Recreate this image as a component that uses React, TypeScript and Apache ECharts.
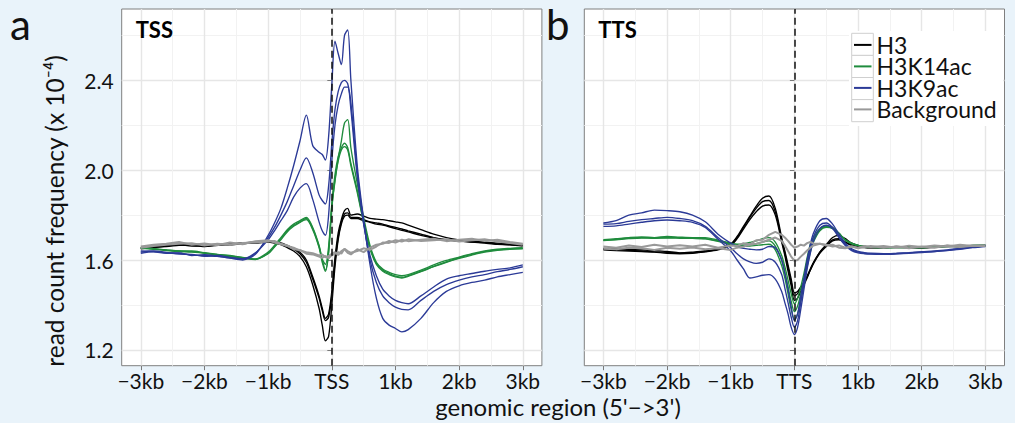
import React, { useEffect, useRef } from "react";
import * as echarts from "echarts";

// genomic position (kb) relative to TSS / TTS
const X = [
  -3.0, -2.8, -2.6, -2.4, -2.2, -2.0, -1.8, -1.6, -1.4, -1.2, -1.0,
  -0.9, -0.8, -0.7, -0.6, -0.5, -0.4, -0.3, -0.2,
  -0.15, -0.1, -0.05, 0, 0.05, 0.1, 0.15, 0.2, 0.25, 0.3,
  0.4, 0.5, 0.6, 0.7, 0.8, 0.9, 1.0, 1.1, 1.2,
  1.4, 1.6, 1.8, 2.0, 2.2, 2.4, 2.6, 2.8, 3.0,
];

// ---- panel a : TSS ----
const TSS_H3_1 = [
  1.655, 1.66, 1.665, 1.67, 1.665, 1.66, 1.668, 1.672, 1.676, 1.68, 1.685,
  1.682, 1.676, 1.665, 1.652, 1.635, 1.6, 1.525, 1.44,
  1.385, 1.34, 1.36, 1.46, 1.61, 1.72, 1.78, 1.82, 1.83, 1.8,
  1.805, 1.795, 1.785, 1.782, 1.78, 1.775, 1.77, 1.765, 1.755,
  1.735, 1.715, 1.7, 1.69, 1.685, 1.68, 1.675, 1.67, 1.665,
];
const TSS_H3_2 = [
  1.65, 1.655, 1.662, 1.668, 1.662, 1.665, 1.67, 1.668, 1.672, 1.678, 1.682,
  1.678, 1.672, 1.662, 1.648, 1.628, 1.59, 1.515, 1.43,
  1.375, 1.33, 1.345, 1.44, 1.59, 1.7, 1.77, 1.805, 1.81, 1.79,
  1.79, 1.78, 1.77, 1.765, 1.76, 1.752, 1.745, 1.738, 1.73,
  1.715, 1.7, 1.69, 1.685, 1.68, 1.678, 1.672, 1.668, 1.665,
];
const TSS_H3_3 = [
  1.652, 1.658, 1.66, 1.665, 1.668, 1.662, 1.665, 1.67, 1.675, 1.675, 1.68,
  1.675, 1.668, 1.655, 1.64, 1.615, 1.57, 1.49, 1.385,
  1.31, 1.24, 1.26, 1.4, 1.57, 1.69, 1.76, 1.795, 1.8, 1.785,
  1.785, 1.775, 1.768, 1.76, 1.755, 1.748, 1.74, 1.732, 1.725,
  1.71, 1.698, 1.69, 1.684, 1.68, 1.675, 1.67, 1.668, 1.662,
];
const TSS_K14_1 = [
  1.655, 1.65, 1.645, 1.64, 1.64, 1.632, 1.625, 1.62, 1.612, 1.605, 1.635,
  1.665, 1.7, 1.735, 1.76, 1.775, 1.79, 1.745, 1.665,
  1.605, 1.58, 1.66, 1.84, 1.95, 2.05, 2.13, 2.21, 2.225, 2.1,
  1.94, 1.79, 1.665, 1.59, 1.56, 1.545, 1.535, 1.53, 1.535,
  1.555, 1.578, 1.598, 1.613, 1.628, 1.64, 1.648, 1.652, 1.655,
];
const TSS_K14_2 = [
  1.652, 1.648, 1.642, 1.638, 1.635, 1.63, 1.622, 1.615, 1.608, 1.602, 1.63,
  1.66, 1.695, 1.73, 1.755, 1.77, 1.785, 1.74, 1.66,
  1.6, 1.555, 1.64, 1.85, 1.98, 2.06, 2.1, 2.12, 2.1, 2.03,
  1.91, 1.77, 1.655, 1.585, 1.555, 1.54, 1.528, 1.523, 1.53,
  1.55, 1.572, 1.592, 1.61, 1.625, 1.637, 1.645, 1.65, 1.652,
];
const TSS_K14_3 = [
  1.655, 1.65, 1.645, 1.64, 1.637, 1.633, 1.625, 1.618, 1.61, 1.604, 1.628,
  1.658, 1.69, 1.725, 1.75, 1.768, 1.78, 1.735, 1.655,
  1.59, 1.55, 1.63, 1.83, 1.96, 2.04, 2.09, 2.105, 2.09, 2.02,
  1.9, 1.765, 1.65, 1.58, 1.55, 1.535, 1.525, 1.52, 1.527,
  1.548, 1.57, 1.59, 1.607, 1.622, 1.635, 1.643, 1.648, 1.65,
];
const TSS_K9_1 = [
  1.64, 1.638, 1.632, 1.63, 1.622, 1.62, 1.616, 1.608, 1.6, 1.625, 1.71,
  1.765, 1.83, 1.92, 2.02, 2.13, 2.245, 2.11, 2.08,
  2.07, 2.045, 2.15, 2.38, 2.575, 2.52, 2.47, 2.6, 2.625, 2.4,
  2.02, 1.78, 1.58, 1.43, 1.34, 1.31, 1.295, 1.28, 1.29,
  1.34, 1.41, 1.46, 1.485, 1.5, 1.51, 1.525, 1.535, 1.545,
];
const TSS_K9_2 = [
  1.635, 1.64, 1.634, 1.626, 1.625, 1.616, 1.62, 1.612, 1.604, 1.63, 1.7,
  1.745, 1.8, 1.86, 1.93, 2.0, 2.055, 1.99, 1.89,
  1.865, 1.85, 1.93, 2.12, 2.27, 2.35, 2.39, 2.4, 2.385, 2.3,
  1.99, 1.77, 1.6, 1.5, 1.44, 1.41, 1.39, 1.38, 1.378,
  1.42, 1.46, 1.49, 1.51, 1.525, 1.535, 1.548, 1.558, 1.57,
];
const TSS_K9_3 = [
  1.63, 1.636, 1.63, 1.632, 1.62, 1.624, 1.618, 1.61, 1.606, 1.632, 1.69,
  1.73, 1.775, 1.82, 1.88, 1.92, 1.94, 1.87, 1.77,
  1.73, 1.71, 1.8, 2.04, 2.2, 2.29, 2.34, 2.37, 2.37, 2.27,
  1.97, 1.76, 1.62, 1.53, 1.47, 1.44, 1.42, 1.41, 1.405,
  1.44, 1.48, 1.515, 1.53, 1.54, 1.55, 1.558, 1.565, 1.578,
];
const TSS_BG_1 = [
  1.66, 1.668, 1.672, 1.68, 1.668, 1.674, 1.666, 1.678, 1.67, 1.684, 1.688,
  1.678, 1.67, 1.662, 1.655, 1.642, 1.635, 1.63, 1.62,
  1.625, 1.612, 1.618, 1.628, 1.635, 1.622, 1.64, 1.648, 1.632, 1.625,
  1.648, 1.635, 1.655, 1.668, 1.672, 1.685, 1.678, 1.69, 1.684,
  1.69, 1.695, 1.684, 1.69, 1.695, 1.685, 1.69, 1.68, 1.672,
];
const TSS_BG_2 = [
  1.655, 1.662, 1.668, 1.672, 1.675, 1.665, 1.672, 1.668, 1.676, 1.678, 1.682,
  1.685, 1.672, 1.665, 1.648, 1.645, 1.628, 1.625, 1.615,
  1.61, 1.618, 1.608, 1.622, 1.628, 1.635, 1.628, 1.65, 1.64, 1.632,
  1.64, 1.652, 1.645, 1.66, 1.678, 1.676, 1.688, 1.682, 1.692,
  1.685, 1.688, 1.692, 1.682, 1.688, 1.692, 1.682, 1.676, 1.668,
];

// ---- panel b : TTS ----
const TTS_H3_1 = [
  1.652, 1.65, 1.647, 1.645, 1.642, 1.638, 1.632, 1.635, 1.64, 1.65, 1.672,
  1.705, 1.75, 1.795, 1.84, 1.875, 1.885, 1.83, 1.7,
  1.64, 1.578, 1.515, 1.455, 1.46, 1.48, 1.5, 1.525, 1.555, 1.585,
  1.635, 1.668, 1.7, 1.71, 1.695, 1.675, 1.665, 1.66, 1.657,
  1.656, 1.66, 1.658, 1.655, 1.66, 1.665, 1.662, 1.665, 1.665,
];
const TTS_H3_2 = [
  1.648, 1.645, 1.643, 1.64, 1.636, 1.634, 1.63, 1.632, 1.638, 1.648, 1.668,
  1.7, 1.745, 1.79, 1.83, 1.86, 1.865, 1.815, 1.69,
  1.63, 1.565, 1.5, 1.44, 1.45, 1.475, 1.5, 1.528, 1.56, 1.59,
  1.635, 1.665, 1.69, 1.695, 1.68, 1.668, 1.66, 1.656, 1.655,
  1.655, 1.658, 1.656, 1.655, 1.658, 1.662, 1.66, 1.663, 1.665,
];
const TTS_H3_3 = [
  1.645, 1.642, 1.64, 1.638, 1.635, 1.63, 1.628, 1.63, 1.636, 1.645, 1.665,
  1.695, 1.738, 1.78, 1.815, 1.84, 1.845, 1.8, 1.68,
  1.62, 1.55, 1.485, 1.42, 1.43, 1.46, 1.49, 1.52, 1.555, 1.585,
  1.63, 1.66, 1.685, 1.69, 1.678, 1.665, 1.658, 1.655, 1.654,
  1.654, 1.656, 1.655, 1.654, 1.657, 1.66, 1.66, 1.662, 1.664,
];
const TTS_K14_1 = [
  1.69, 1.695, 1.7, 1.703, 1.7, 1.705, 1.702, 1.7, 1.7, 1.688, 1.675,
  1.67, 1.672, 1.678, 1.685, 1.695, 1.7, 1.68, 1.62,
  1.57, 1.51, 1.45, 1.405, 1.43, 1.48, 1.54, 1.61, 1.67, 1.7,
  1.74, 1.752, 1.745, 1.72, 1.69, 1.675, 1.665, 1.66, 1.658,
  1.656, 1.655, 1.657, 1.655, 1.66, 1.662, 1.66, 1.665, 1.665,
];
const TTS_K14_2 = [
  1.688, 1.692, 1.698, 1.7, 1.698, 1.7, 1.7, 1.698, 1.695, 1.685, 1.672,
  1.665, 1.665, 1.668, 1.672, 1.68, 1.685, 1.662, 1.6,
  1.545, 1.48, 1.415, 1.37, 1.395, 1.45, 1.515, 1.59, 1.65, 1.69,
  1.735, 1.748, 1.742, 1.718, 1.69, 1.674, 1.665, 1.66, 1.657,
  1.655, 1.656, 1.655, 1.656, 1.659, 1.661, 1.662, 1.664, 1.665,
];
const TTS_K14_3 = [
  1.686, 1.69, 1.695, 1.698, 1.697, 1.698, 1.697, 1.696, 1.694, 1.683, 1.67,
  1.662, 1.66, 1.662, 1.665, 1.668, 1.67, 1.645, 1.575,
  1.52, 1.45, 1.38, 1.335, 1.36, 1.42, 1.49, 1.57, 1.635, 1.68,
  1.73, 1.745, 1.74, 1.715, 1.688, 1.672, 1.664, 1.66, 1.657,
  1.655, 1.655, 1.656, 1.655, 1.658, 1.66, 1.661, 1.663, 1.664,
];
const TTS_K9_1 = [
  1.765, 1.775, 1.8, 1.81, 1.822, 1.82, 1.815, 1.8, 1.77, 1.715, 1.675,
  1.66, 1.652, 1.648, 1.645, 1.648, 1.66, 1.655, 1.6,
  1.54, 1.47, 1.39, 1.33, 1.36, 1.44, 1.52, 1.6, 1.67, 1.72,
  1.775, 1.785, 1.76, 1.715, 1.675, 1.65, 1.638, 1.633, 1.63,
  1.628, 1.63, 1.633, 1.637, 1.64, 1.645, 1.652, 1.658, 1.665,
];
const TTS_K9_2 = [
  1.76, 1.762, 1.772, 1.78, 1.785, 1.79, 1.785, 1.775, 1.75, 1.7, 1.655,
  1.628, 1.605, 1.592, 1.585, 1.59, 1.605, 1.59, 1.535,
  1.475, 1.41, 1.345, 1.3, 1.33, 1.41, 1.5, 1.585, 1.655, 1.705,
  1.755, 1.765, 1.745, 1.705, 1.668, 1.645, 1.635, 1.63, 1.628,
  1.626, 1.628, 1.632, 1.635, 1.638, 1.643, 1.65, 1.656, 1.662,
];
const TTS_K9_3 = [
  1.75, 1.752, 1.76, 1.768, 1.775, 1.778, 1.775, 1.768, 1.745, 1.692, 1.64,
  1.6, 1.56, 1.52, 1.525, 1.532, 1.535, 1.515, 1.46,
  1.41, 1.36, 1.3, 1.268, 1.3, 1.38, 1.47, 1.56, 1.63, 1.685,
  1.74, 1.755, 1.74, 1.7, 1.665, 1.642, 1.632, 1.628, 1.626,
  1.625, 1.627, 1.63, 1.633, 1.637, 1.642, 1.648, 1.655, 1.66,
];
const TTS_BG_1 = [
  1.66, 1.655, 1.665, 1.658, 1.668, 1.66, 1.666, 1.66, 1.668, 1.655, 1.665,
  1.662, 1.675, 1.67, 1.688, 1.69, 1.712, 1.725, 1.712,
  1.7, 1.685, 1.668, 1.655, 1.66, 1.668, 1.664, 1.675, 1.68, 1.674,
  1.672, 1.665, 1.668, 1.655, 1.652, 1.66, 1.655, 1.662, 1.658,
  1.662, 1.655, 1.664, 1.658, 1.665, 1.66, 1.668, 1.662, 1.665,
];
const TTS_BG_2 = [
  1.65, 1.648, 1.655, 1.652, 1.645, 1.655, 1.65, 1.656, 1.648, 1.652, 1.645,
  1.655, 1.66, 1.668, 1.672, 1.68, 1.69, 1.7, 1.685,
  1.665, 1.64, 1.615, 1.596, 1.6, 1.615, 1.628, 1.642, 1.655, 1.665,
  1.672, 1.668, 1.66, 1.665, 1.655, 1.66, 1.652, 1.658, 1.662,
  1.655, 1.66, 1.652, 1.66, 1.655, 1.664, 1.658, 1.664, 1.662,
];

// ---- axes / labels ----
const X_TICKS = [-3, -2, -1, 0, 1, 2, 3];
const TSS_X_LABELS = ["\u22123kb", "\u22122kb", "\u22121kb", "TSS", "1kb", "2kb", "3kb"];
const TTS_X_LABELS = ["\u22123kb", "\u22122kb", "\u22121kb", "TTS", "1kb", "2kb", "3kb"];
const X_MINOR = [-2.5, -1.5, -0.5, 0.5, 1.5, 2.5];
const Y_TICKS = [1.2, 1.6, 2.0, 2.4];
const Y_LABELS = ["1.2", "1.6", "2.0", "2.4"];
const Y_MINOR = [1.4, 1.8, 2.2, 2.6];
const GROUP_NAMES = ["H3", "H3K14ac", "H3K9ac", "Background"];
const GROUP_COLORS = ["#000000", "#1f8c3d", "#2b3a97", "#999999"];
const PANEL_TITLES = ["TSS", "TTS"];
const PANEL_LETTERS = ["a", "b"];
const X_TITLE = "genomic region (5'\u2212>3')";
const Y_TITLE = "read count frequency (x 10\u207B\u2074)";

const PANEL_DATA = [
  [[TSS_H3_1, TSS_H3_2, TSS_H3_3], [TSS_K14_1, TSS_K14_2, TSS_K14_3], [TSS_K9_1, TSS_K9_2, TSS_K9_3], [TSS_BG_1, TSS_BG_2]],
  [[TTS_H3_1, TTS_H3_2, TTS_H3_3], [TTS_K14_1, TTS_K14_2, TTS_K14_3], [TTS_K9_1, TTS_K9_2, TTS_K9_3], [TTS_BG_1, TTS_BG_2]],
];

const FONT = "Lato";
const BG = "#e9f3fa";
const Y_MIN = 1.1292;
const Y_MAX = 2.718;
const GRID_LEFTS = [121.7, 584.3];

function buildOption() {
  const grids: any[] = [];
  const xAxes: any[] = [];
  const yAxes: any[] = [];
  const series: any[] = [];

  for (let p = 0; p < 2; p++) {
    grids.push({
      left: GRID_LEFTS[p],
      top: 9,
      width: 420.2,
      height: 356.7,
      show: true,
      backgroundColor: "#ffffff",
      borderColor: "#7f7f7f",
      borderWidth: 1,
    });
    const labels = p === 0 ? TSS_X_LABELS : TTS_X_LABELS;
    xAxes.push({
      type: "value",
      gridIndex: p,
      min: -3.3,
      max: 3.3,
      position: "bottom",
      axisLine: { show: false },
      axisTick: { show: true, length: 4.5, customValues: X_TICKS, lineStyle: { color: "#7a7a7a", width: 1 } },
      axisLabel: {
        customValues: X_TICKS,
        formatter: (v: number) => {
          const i = X_TICKS.findIndex((t) => Math.abs(t - v) < 1e-6);
          return i >= 0 ? labels[i] : "";
        },
        fontFamily: FONT,
        fontSize: 21,
        lineHeight: 21,
        color: "#111111",
        margin: 4,
      },
      splitLine: { show: true, lineStyle: { color: "#e6e6e6", width: 1.4 } },
    });
    xAxes.push({
      type: "value",
      gridIndex: p,
      min: -3.3,
      max: 3.3,
      position: "top",
      axisLine: { show: false },
      axisTick: { show: false, customValues: X_MINOR },
      axisLabel: { show: false, customValues: X_MINOR },
      splitLine: { show: true, lineStyle: { color: "#f2f2f2", width: 1 } },
    });
    yAxes.push({
      type: "value",
      gridIndex: p,
      min: Y_MIN,
      max: Y_MAX,
      position: "left",
      axisLine: { show: false },
      axisTick: { show: true, length: 4.5, customValues: Y_TICKS, lineStyle: { color: "#7a7a7a", width: 1 } },
      axisLabel: {
        show: p === 0,
        customValues: Y_TICKS,
        formatter: (v: number) => {
          const i = Y_TICKS.findIndex((t) => Math.abs(t - v) < 1e-6);
          return i >= 0 ? Y_LABELS[i] : "";
        },
        fontFamily: FONT,
        fontSize: 21,
        color: "#111111",
        margin: 8,
      },
      splitLine: { show: true, lineStyle: { color: "#e6e6e6", width: 1.4 } },
    });
    yAxes.push({
      type: "value",
      gridIndex: p,
      min: Y_MIN,
      max: Y_MAX,
      position: "right",
      axisLine: { show: false },
      axisTick: { show: false, customValues: Y_MINOR },
      axisLabel: { show: false, customValues: Y_MINOR },
      splitLine: { show: true, lineStyle: { color: "#f2f2f2", width: 1 } },
    });

    PANEL_DATA[p].forEach((reps, g) => {
      reps.forEach((arr, r) => {
        const isBg = g === 3;
        const last = isBg && r === reps.length - 1;
        series.push({
          type: "line",
          name: GROUP_NAMES[g],
          xAxisIndex: p * 2,
          yAxisIndex: p * 2,
          data: X.map((x, i) => [x, arr[i]]),
          symbol: "none",
          showSymbol: false,
          smooth: isBg ? false : 0.3,
          silent: true,
          clip: false,
          z: 2 + g * 0.1,
          lineStyle: { color: GROUP_COLORS[g], width: isBg ? 2 : 1.35 },
          itemStyle: { color: GROUP_COLORS[g] },
          markLine: last
            ? {
                silent: true,
                symbol: ["none", "none"],
                label: { show: false },
                lineStyle: { color: "#111111", type: [7, 4], width: 1.5 },
                data: [{ xAxis: 0 }],
                z: 6,
              }
            : undefined,
        });
      });
    });
  }

  const graphic: any[] = [];
  PANEL_LETTERS.forEach((t, p) => {
    graphic.push({
      type: "text",
      x: p === 0 ? 10 : 546,
      y: 24,
      style: { text: t, fontFamily: FONT, fontSize: 42, fill: "#111111", align: "left", verticalAlign: "middle" },
      z: 10,
    });
    graphic.push({
      type: "text",
      x: GRID_LEFTS[p] + 14,
      y: 29.5,
      style: { text: PANEL_TITLES[p], fontFamily: FONT, fontSize: 22, fontWeight: "bold", fill: "#000000", align: "left", verticalAlign: "middle" },
      z: 10,
    });
  });
  graphic.push({
    type: "text",
    x: 54,
    y: 211,
    rotation: Math.PI / 2,
    style: { text: Y_TITLE, fontFamily: FONT, fontSize: 24.5, fill: "#111111", align: "center", verticalAlign: "middle" },
    z: 10,
  });
  graphic.push({
    type: "text",
    x: 558,
    y: 406,
    style: { text: X_TITLE, fontFamily: FONT, fontSize: 24, fill: "#111111", align: "center", verticalAlign: "middle" },
    z: 10,
  });
  // legend background and key boxes
  graphic.push({
    type: "rect",
    shape: { x: 849, y: 31, width: 154, height: 95 },
    style: { fill: "#ffffff" },
    z: 3,
  });
  GROUP_NAMES.forEach((_, i) => {
    graphic.push({
      type: "rect",
      shape: { x: 851.7, y: 33.3 + i * 22.1, width: 21.6, height: 22.1 },
      style: { fill: "#ffffff", stroke: "#cfcfcf", lineWidth: 1 },
      z: 4,
    });
  });

  return {
    animation: false,
    backgroundColor: BG,
    textStyle: { fontFamily: FONT },
    grid: grids,
    xAxis: xAxes,
    yAxis: yAxes,
    series,
    graphic,
    legend: {
      show: true,
      orient: "vertical",
      left: 854,
      top: 33.4,
      padding: 0,
      itemGap: -1.5,
      itemWidth: 17.5,
      itemHeight: 2,
      icon: "rect",
      selectedMode: false,
      z: 8,
      data: GROUP_NAMES,
      textStyle: { fontFamily: FONT, fontSize: 23, lineHeight: 22, color: "#111111" },
    },
  };
}

export default function App() {
  const ref = useRef<HTMLDivElement>(null);
  useEffect(() => {
    if (!ref.current) return;
    const chart = echarts.init(ref.current, null, { renderer: "svg" });
    chart.setOption(buildOption() as any);
    return () => chart.dispose();
  }, []);
  return (
    <div
      ref={ref}
      style={{ position: "fixed", left: 0, top: 0, width: 1015, height: 423, background: BG }}
    />
  );
}
